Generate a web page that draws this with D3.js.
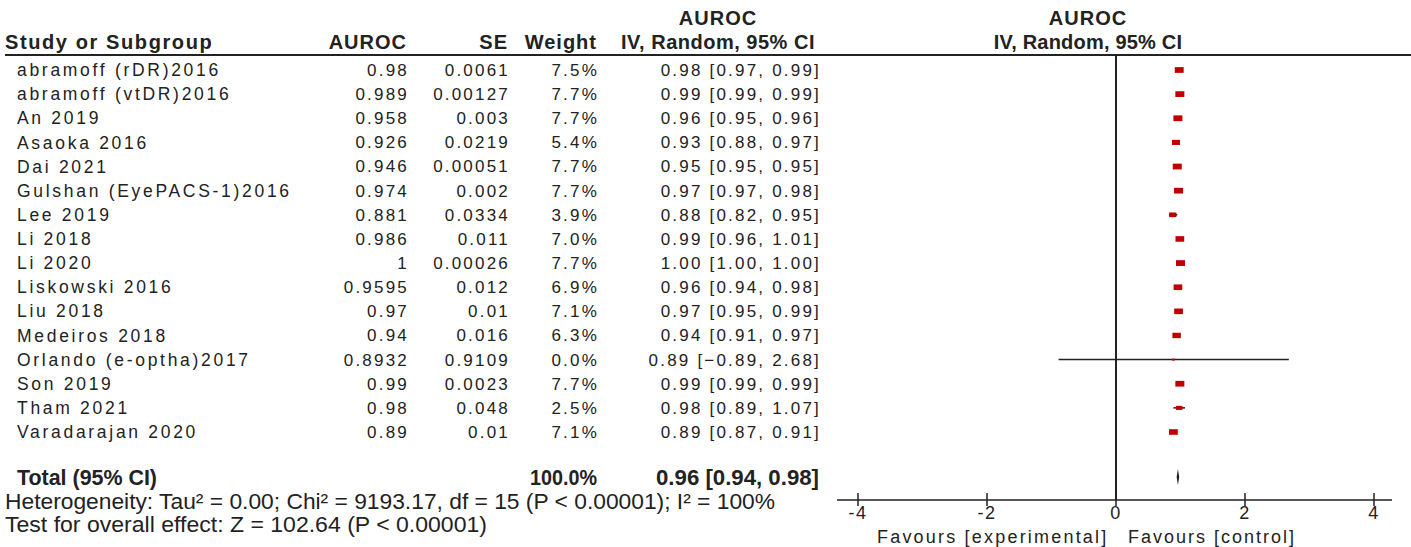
<!DOCTYPE html>
<html>
<head>
<meta charset="utf-8">
<script src="https://cdn.jsdelivr.net/npm/d3@7"></script>
<style>
  body { margin: 0; background: #fff; }
  text { font-family: "Liberation Sans", Arial, sans-serif; fill: #222; }
</style>
</head>
<body>
<script>
// study data
var studies = ["abramoff (rDR)2016", "abramoff (vtDR)2016", "An 2019", "Asaoka 2016", "Dai 2021",
  "Gulshan (EyePACS-1)2016", "Lee 2019", "Li 2018", "Li 2020", "Liskowski 2016", "Liu 2018",
  "Medeiros 2018", "Orlando (e-optha)2017", "Son 2019", "Tham 2021", "Varadarajan 2020"];
var aurocText = ["0.98", "0.989", "0.958", "0.926", "0.946", "0.974", "0.881", "0.986", "1",
  "0.9595", "0.97", "0.94", "0.8932", "0.99", "0.98", "0.89"];
var seText = ["0.0061", "0.00127", "0.003", "0.0219", "0.00051", "0.002", "0.0334", "0.011",
  "0.00026", "0.012", "0.01", "0.016", "0.9109", "0.0023", "0.048", "0.01"];
var weights = [7.5, 7.7, 7.7, 5.4, 7.7, 7.7, 3.9, 7.0, 7.7, 6.9, 7.1, 6.3, 0.0, 7.7, 2.5, 7.1];
var est = [0.98, 0.99, 0.96, 0.93, 0.95, 0.97, 0.88, 0.99, 1.00, 0.96, 0.97, 0.94, 0.89, 0.99, 0.98, 0.89];
var lower = [0.97, 0.99, 0.95, 0.88, 0.95, 0.97, 0.82, 0.96, 1.00, 0.94, 0.95, 0.91, -0.89, 0.99, 0.89, 0.87];
var upper = [0.99, 0.99, 0.96, 0.97, 0.95, 0.98, 0.95, 1.01, 1.00, 0.98, 0.99, 0.97, 2.68, 0.99, 1.07, 0.91];
var total = {est: 0.96, lo: 0.94, hi: 0.98};
var xTicks = [-4, -2, 0, 2, 4];

var width = 1411, height = 547;

var svg = d3.select("body").append("svg")
    .attr("width", width)
    .attr("height", height);

// scales
var x = d3.scaleLinear().domain([-4, 4]).range([858, 1374]);
var y = d3.scalePoint().domain(d3.range(studies.length)).range([70, 432]);
var boxW = d3.scaleSqrt().domain([0, 7.7]).range([3, 9]);

var f2 = d3.format(".2f");

// headers
var hdr = svg.append("g").style("font-weight", "bold").style("font-size", "20px")
    .style("letter-spacing", "1px");
hdr.append("text").attr("x", 5).attr("y", 49).style("letter-spacing", "1.6px").text("Study or Subgroup");
hdr.append("text").attr("x", 407).attr("y", 49).attr("text-anchor", "end").text("AUROC");
hdr.append("text").attr("x", 508).attr("y", 49).attr("text-anchor", "end").text("SE");
hdr.append("text").attr("x", 597).attr("y", 49).attr("text-anchor", "end").text("Weight");
hdr.append("text").attr("x", 718).attr("y", 25).attr("text-anchor", "middle").text("AUROC");
hdr.append("text").attr("x", 718).attr("y", 49).attr("text-anchor", "middle")
    .style("letter-spacing", "0.5px").text("IV, Random, 95% CI");
hdr.append("text").attr("x", 1088).attr("y", 25).attr("text-anchor", "middle").text("AUROC");
hdr.append("text").attr("x", 1088).attr("y", 49).attr("text-anchor", "middle")
    .style("letter-spacing", "0.2px").text("IV, Random, 95% CI");

svg.append("line").attr("x1", 5).attr("x2", width).attr("y1", 55).attr("y2", 55)
    .attr("stroke", "#222").attr("stroke-width", 2);

// study rows
var rows = svg.append("g").style("font-size", "17px").style("letter-spacing", "2.2px")
  .selectAll("g").data(studies).enter().append("g")
    .attr("transform", function(d, i) { return "translate(0," + y(i) + ")"; });

rows.append("text").attr("x", 17).attr("dy", "0.35em")
    .style("font-size", "17.5px").style("letter-spacing", "2.7px")
    .text(function(d) { return d; });
rows.append("text").attr("x", 409).attr("dy", "0.35em").attr("text-anchor", "end")
    .text(function(d, i) { return aurocText[i]; });
rows.append("text").attr("x", 510).attr("dy", "0.35em").attr("text-anchor", "end")
    .text(function(d, i) { return seText[i]; });
rows.append("text").attr("x", 599).attr("dy", "0.35em").attr("text-anchor", "end")
    .text(function(d, i) { return weights[i].toFixed(1) + "%"; });
rows.append("text").attr("x", 821).attr("dy", "0.35em").attr("text-anchor", "end")
    .text(function(d, i) { return f2(est[i]) + " [" + f2(lower[i]) + ", " + f2(upper[i]) + "]"; });

// zero line
svg.append("line").attr("x1", x(0)).attr("x2", x(0)).attr("y1", 55).attr("y2", 500)
    .attr("stroke", "#222").attr("stroke-width", 2);

// CI whiskers and boxes
rows.append("line")
    .attr("x1", function(d, i) { return x(lower[i]); })
    .attr("x2", function(d, i) { return x(upper[i]); })
    .attr("stroke", "#222").attr("stroke-width", 1.5);
rows.append("rect")
    .attr("x", function(d, i) { return x(est[i]) - boxW(weights[i]) / 2; })
    .attr("y", function(d, i) { return -boxW(weights[i]) * 0.32; })
    .attr("width", function(d, i) { return boxW(weights[i]); })
    .attr("height", function(d, i) { return boxW(weights[i]) * 0.64; })
    .attr("fill", "#c00000");

// total row
var ty = 477;
var tot = svg.append("g").style("font-weight", "bold").style("font-size", "22px");
tot.append("text").attr("x", 17).attr("y", ty).attr("dy", "0.35em")
    .attr("textLength", 140).attr("lengthAdjust", "spacingAndGlyphs").text("Total (95% CI)");
tot.append("text").attr("x", 597).attr("y", ty).attr("dy", "0.35em").attr("text-anchor", "end")
    .attr("textLength", 67).attr("lengthAdjust", "spacingAndGlyphs").text("100.0%");
tot.append("text").attr("x", 819).attr("y", ty).attr("dy", "0.35em").attr("text-anchor", "end")
    .attr("textLength", 163).attr("lengthAdjust", "spacingAndGlyphs")
    .text(f2(total.est) + " [" + f2(total.lo) + ", " + f2(total.hi) + "]");

svg.append("path")
    .attr("d", "M" + x(total.lo) + "," + ty + "L" + x(total.est) + "," + (ty - 8) +
      "L" + x(total.hi) + "," + ty + "L" + x(total.est) + "," + (ty + 8) + "Z")
    .attr("fill", "#222");

// footnotes
var foot = svg.append("g").style("font-size", "22px");
foot.append("text").attr("x", 5).attr("y", 501).attr("dy", "0.35em")
    .attr("textLength", 770).attr("lengthAdjust", "spacingAndGlyphs")
    .text("Heterogeneity: Tau\u00b2 = 0.00; Chi\u00b2 = 9193.17, df = 15 (P < 0.00001); I\u00b2 = 100%");
foot.append("text").attr("x", 5).attr("y", 524).attr("dy", "0.35em")
    .attr("textLength", 482).attr("lengthAdjust", "spacingAndGlyphs")
    .text("Test for overall effect: Z = 102.64 (P < 0.00001)");

// x axis
var axis = svg.append("g").attr("transform", "translate(0,500)");
axis.append("line").attr("x1", 837).attr("x2", 1392).attr("stroke", "#222").attr("stroke-width", 1.5);
axis.selectAll(".tick").data(xTicks).enter().append("line")
    .attr("x1", x).attr("x2", x).attr("y1", -7).attr("y2", 6)
    .attr("stroke", "#222").attr("stroke-width", 1.5);
axis.selectAll(".lbl").data(xTicks).enter().append("text")
    .attr("x", x).attr("y", 19).attr("text-anchor", "middle")
    .style("font-size", "18px").style("letter-spacing", "1.5px")
    .text(function(d) { return d; });

svg.append("text").attr("x", 877).attr("y", 543)
    .style("font-size", "18px").style("letter-spacing", "2.2px").text("Favours [experimental]");
svg.append("text").attr("x", 1128).attr("y", 543)
    .style("font-size", "18px").style("letter-spacing", "2px").text("Favours [control]");
</script>
</body>
</html>
